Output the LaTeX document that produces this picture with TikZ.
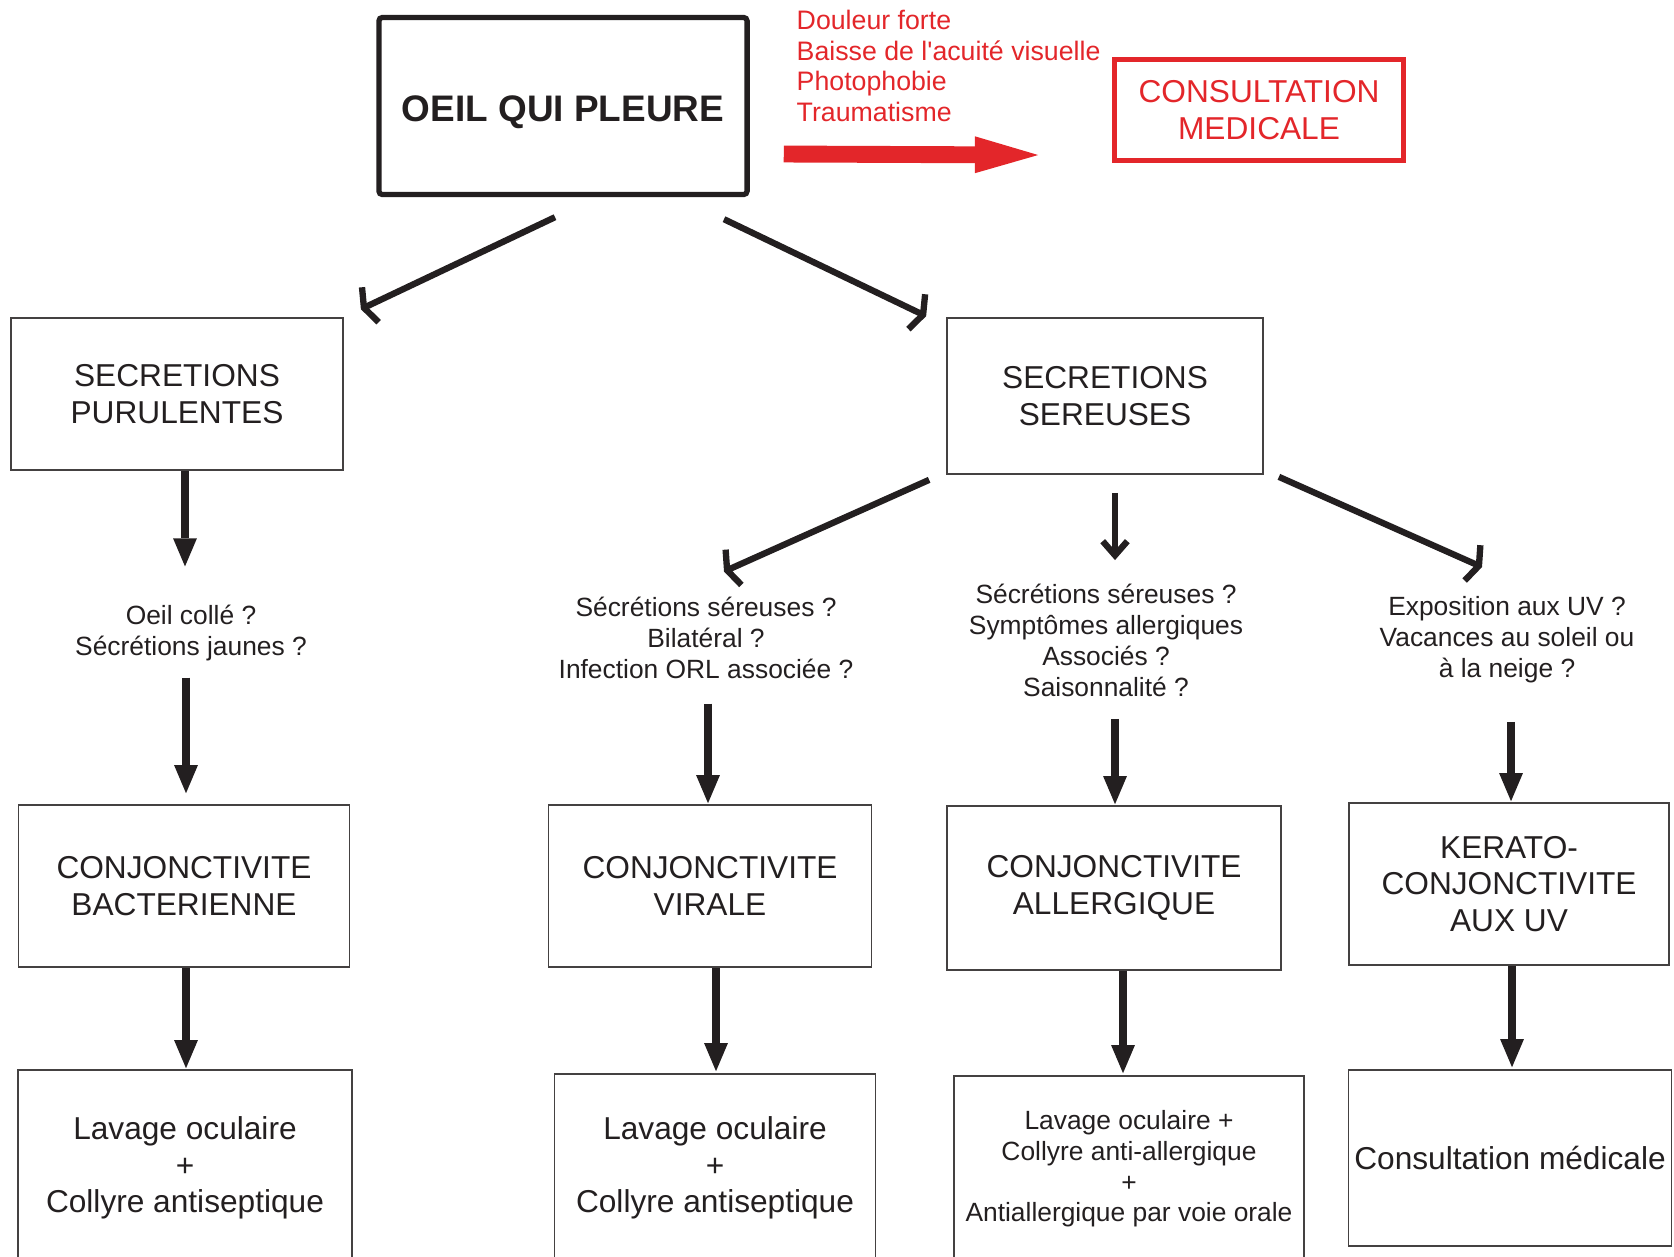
\documentclass[tikz,border=0pt]{standalone}
\usepackage{fontspec}
\setmainfont{Liberation Sans}
\usetikzlibrary{arrows.meta,calc}
\definecolor{darkline}{HTML}{231F20}
\definecolor{alertred}{HTML}{E3262A}

\begin{document}
\begin{tikzpicture}[
  x=0.01cm, y=-0.01cm,
  box/.style={draw=darkline!85, line width=0.45pt, inner sep=0pt, align=center,
    text=darkline, font=\fontsize{9}{10.3}\selectfont},
  question/.style={inner sep=0pt, align=center, text=darkline,
    font=\fontsize{7.5}{8.8}\selectfont},
  fatarrow/.style={draw=darkline, line width=2.5pt,
    -{Triangle[length=8pt,width=6.8pt,line width=0pt]}},
  barbarrow/.style={draw=darkline, line width=1.8pt,
    -{Straight Barb[length=2pt,width=11pt]}},
  thinbarb/.style={draw=darkline, line width=1.8pt,
    -{Straight Barb[length=4pt,width=7pt]}},
  redarrow/.style={draw=alertred, line width=4.8pt,
    -{Triangle[length=18pt,width=10.5pt,line width=0pt]}}
]
\useasboundingbox (0,0) rectangle (1674,1256);
\clip (0,0) rectangle (1674,1256);

% Top
\node[draw=darkline, line width=1.5pt, rounded corners=1pt, minimum width=3.68cm,
  minimum height=1.77cm, text height=8.6pt, text depth=0pt, text=darkline,
  font=\fontsize{10.5}{12}\selectfont\bfseries]
  (oeil) at (563,106) {OEIL QUI PLEURE};
\node[anchor=west, align=left, inner sep=0pt, text=alertred,
  font=\fontsize{7.6}{8.7}\selectfont]
  (signs) at (796,66) {Douleur forte\\Baisse de l\textquotesingle acuité visuelle\\Photophobie\\Traumatisme};
\node[draw=alertred, line width=1.3pt, minimum width=2.89cm, minimum height=1.01cm,
  inner sep=0pt, align=center, text=alertred, font=\fontsize{9}{10.3}\selectfont]
  (consult) at (1259,110) {CONSULTATION\\MEDICALE};
\draw[redarrow] ($(oeil.east)+(34,48)$) -- ($(consult.west)+(-74,45)$);

% Secretions
\node[box, minimum width=3.32cm, minimum height=1.52cm] (purul) at (177,394) {SECRETIONS\\PURULENTES};
\node[box, minimum width=3.16cm, minimum height=1.56cm] (sereuse) at (1105,396) {SECRETIONS\\SEREUSES};
\draw[barbarrow] ($(oeil.south)+(-8,20)$) -- ($(purul.north east)+(17,-8)$);
\draw[barbarrow] ($(oeil.south)+(161,22)$) -- ($(sereuse.north west)+(-20,-1)$);

% Questions
\node[question] (q1) at (191,633) {Oeil collé ?\\Sécrétions jaunes ?};
\node[question] (q2) at (706,638) {Sécrétions séreuses ?\\Bilatéral ?\\Infection ORL associée ?};
\node[question] (q3) at (1106,640) {Sécrétions séreuses ?\\Symptômes allergiques\\Associés ?\\Saisonnalité ?};
\node[question] (q4) at (1507,640) {Exposition aux UV ?\\Vacances au soleil ou\\à la neige ?};
\draw[fatarrow] ($(purul.south)+(8,0)$) -- ($(q1.north)+(-6,-38)$);
\draw[barbarrow] ($(sereuse.south west)+(-17,5)$) -- ($(q2.north)+(18,-25)$);
\draw[thinbarb] ($(sereuse.south)+(10,18)$) -- ($(q3.north)+(9,-23)$);
\draw[barbarrow] ($(sereuse.south east)+(15,2)$) -- ($(q4.north)+(-25,-29)$);

% Diagnostics
\node[box, minimum width=3.31cm, minimum height=1.62cm] (bact) at (184,886) {CONJONCTIVITE\\BACTERIENNE};
\node[box, minimum width=3.23cm, minimum height=1.62cm] (virale) at (710,886) {CONJONCTIVITE\\VIRALE};
\node[box, minimum width=3.34cm, minimum height=1.64cm] (allerg) at (1114,888) {CONJONCTIVITE\\ALLERGIQUE};
\node[box, minimum width=3.20cm, minimum height=1.62cm] (kerato) at (1509,884) {KERATO-\\CONJONCTIVITE\\AUX UV};
\draw[fatarrow] ($(q1.south)+(-5,16)$) -- ($(bact.north)+(2,-11)$);
\draw[fatarrow] ($(q2.south)+(2,24)$) -- ($(virale.north)+(-2,-1)$);
\draw[fatarrow] ($(q3.south)+(9,22)$) -- ($(allerg.north)+(1,-1)$);
\draw[fatarrow] ($(q4.south)+(4,38)$) -- ($(kerato.north)+(2,-1)$);

% Treatments
\node[box, minimum width=3.34cm, minimum height=1.96cm, font=\fontsize{9}{10.4}\selectfont]
  (lavbact) at (185,1168) {Lavage oculaire\\+\\Collyre antiseptique};
\node[box, minimum width=3.21cm, minimum height=1.88cm, font=\fontsize{9}{10.4}\selectfont]
  (lavvir) at (715,1168) {Lavage oculaire\\+\\Collyre antiseptique};
\node[box, minimum width=3.50cm, minimum height=1.86cm, font=\fontsize{7.5}{8.7}\selectfont]
  (lavall) at (1129,1169) {Lavage oculaire +\\Collyre anti-allergique\\+\\Antiallergique par voie orale};
\node[box, minimum width=3.23cm, minimum height=1.76cm] (consuv) at (1510,1158) {Consultation médicale};
\draw[fatarrow] ($(bact.south)+(2,0)$) -- ($(lavbact.north)+(1,-1)$);
\draw[fatarrow] ($(virale.south)+(6,0)$) -- ($(lavvir.north)+(1,-2)$);
\draw[fatarrow] ($(allerg.south)+(9,0)$) -- ($(lavall.north)+(-6,-2)$);
\draw[fatarrow] ($(kerato.south)+(3,0)$) -- ($(consuv.north)+(2,-2)$);

\end{tikzpicture}
\end{document}
